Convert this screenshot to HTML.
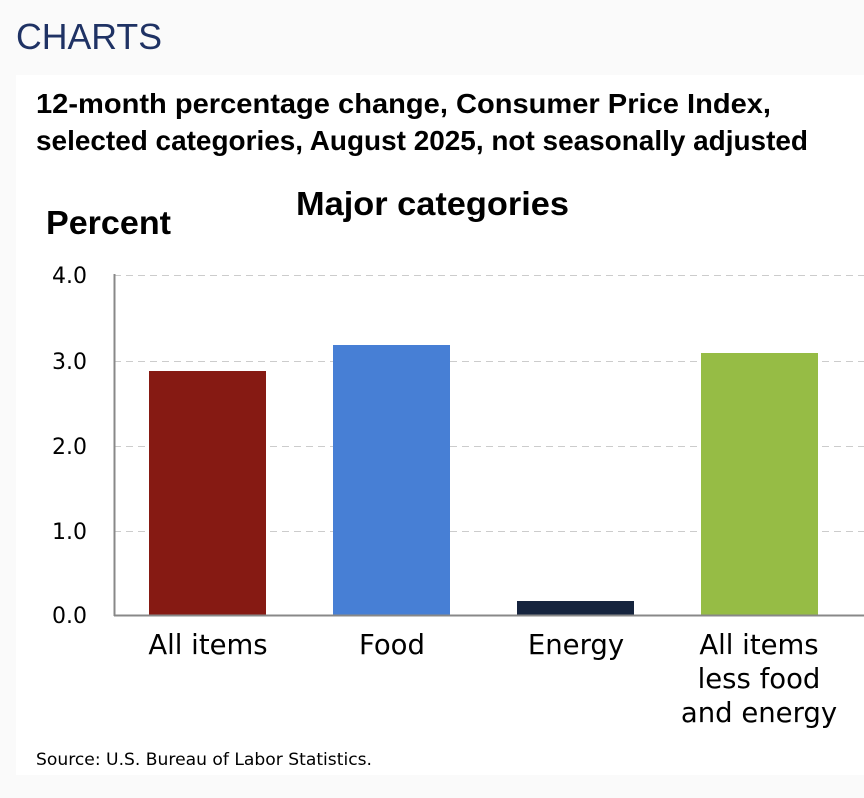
<!DOCTYPE html>
<html><head><style>
html,body{margin:0;padding:0;background:#fafafa;width:864px;height:798px;overflow:hidden}
</style></head><body>
<svg width="864" height="798" xmlns="http://www.w3.org/2000/svg" style="display:block">
<rect x="0" y="0" width="864" height="798" fill="#fafafa"/>
<text x="16" y="49" font-family="Liberation Sans, sans-serif" font-size="36" fill="#1f3264" textLength="146" lengthAdjust="spacingAndGlyphs">CHARTS</text>
<rect x="16" y="75" width="848" height="700" fill="#ffffff"/>
<g font-family="Liberation Sans, sans-serif" font-weight="bold" fill="#000">
<text x="36" y="113" font-size="28" textLength="735" lengthAdjust="spacingAndGlyphs">12-month percentage change, Consumer Price Index,</text>
<text x="36" y="150" font-size="28" textLength="772" lengthAdjust="spacingAndGlyphs">selected categories, August 2025, not seasonally adjusted</text>
<text x="296" y="215" font-size="33" textLength="273" lengthAdjust="spacingAndGlyphs">Major categories</text>
<text x="46" y="234" font-size="33" textLength="125" lengthAdjust="spacingAndGlyphs">Percent</text>
</g>
<g stroke="#cccccc" stroke-width="1" stroke-dasharray="7,5">
<line x1="114" y1="275.5" x2="864" y2="275.5"/>
<line x1="114" y1="361.5" x2="864" y2="361.5"/>
<line x1="114" y1="446.5" x2="864" y2="446.5"/>
<line x1="114" y1="531.5" x2="864" y2="531.5"/>
</g>
<rect x="149" y="371" width="117" height="244" fill="#861a13"/>
<rect x="333" y="345" width="117" height="270" fill="#477fd5"/>
<rect x="517" y="601" width="117" height="14" fill="#16243e"/>
<rect x="701" y="353" width="117" height="262" fill="#96bc45"/>
<line x1="114.5" y1="274" x2="114.5" y2="616" stroke="#888" stroke-width="2"/>
<line x1="114" y1="615.5" x2="864" y2="615.5" stroke="#888" stroke-width="2"/>
<g font-family="DejaVu Sans, sans-serif" font-size="22" fill="#000" text-anchor="end">
<text x="87" y="283">4.0</text>
<text x="87" y="369">3.0</text>
<text x="87" y="454">2.0</text>
<text x="87" y="539">1.0</text>
<text x="87" y="623">0.0</text>
</g>
<g font-family="DejaVu Sans, sans-serif" font-size="27.5" fill="#000" text-anchor="middle">
<text x="208" y="654">All items</text>
<text x="392" y="654">Food</text>
<text x="576" y="654">Energy</text>
<text x="759" y="654">All items</text>
<text x="759" y="688">less food</text>
<text x="759" y="722">and energy</text>
</g>
<text x="36" y="765" font-family="DejaVu Sans, sans-serif" font-size="17" fill="#000" textLength="336" lengthAdjust="spacingAndGlyphs">Source: U.S. Bureau of Labor Statistics.</text>
</svg>
</body></html>
